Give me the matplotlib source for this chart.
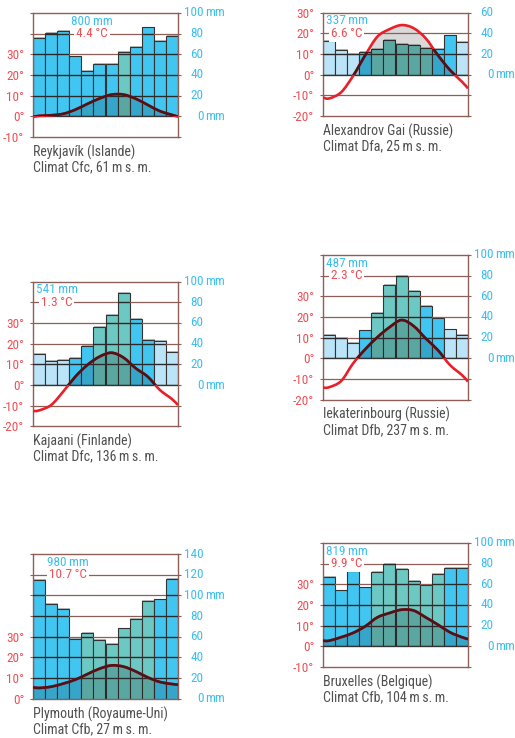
import numpy as np
import matplotlib
matplotlib.use('Agg')
import matplotlib.pyplot as plt
import matplotlib.patheffects as pe
from matplotlib import transforms
from matplotlib.path import Path
from matplotlib.patches import PathPatch, Rectangle

plt.rcParams['font.family'] = ['Roboto Condensed', 'Liberation Sans Narrow', 'DejaVu Sans']

months = np.arange(1, 13)

# precipitation (mm), temperature (°C) at month centres, curve ends at plot edges,
# bar class per month: l = frozen, b = cool, t = warm
reykjavik_precip = [76, 81, 83, 58, 44, 51, 51, 62, 67, 86, 73, 78]
reykjavik_temp = [0.2, 0.5, 1.2, 3.2, 6.0, 8.6, 10.5, 10.5, 8.5, 5.5, 2.5, 0.7]
reykjavik_ends = (-0.3, -0.2)
reykjavik_kind = 'bbbbbbbtbbbb'

alexandrov_precip = [33, 24, 20, 22, 25, 34, 30, 29, 26, 25, 38, 32]
alexandrov_temp = [-11.5, -8.5, -0.5, 9.5, 18.4, 22.0, 24.0, 22.5, 17.6, 9.5, 2.3, -3.4]
alexandrov_ends = (-11.0, -6.6)
alexandrov_kind = 'lllbtttttbbl'

kajaani_precip = [30, 23, 24, 26, 38, 56, 68, 89, 64, 44, 43, 32]
kajaani_temp = [-12.3, -9.7, -3.2, 4.0, 9.7, 13.7, 15.6, 13.2, 8.1, 4.0, -2.4, -6.8]
kajaani_ends = (-12.6, -9.7)
kajaani_kind = 'lllbbtttbbll'

iekaterinbourg_precip = [23, 20, 15, 27, 44, 71, 80, 65, 51, 39, 28, 23]
iekaterinbourg_temp = [-14.0, -11.0, -2.4, 4.4, 10.2, 15.0, 18.5, 15.6, 9.6, 4.0, -3.2, -8.1]
iekaterinbourg_ends = (-14.2, -11.3)
iekaterinbourg_kind = 'lllbttttbbll'

plymouth_precip = [115, 92, 87, 58, 64, 57, 53, 68, 77, 95, 96, 116]
plymouth_temp = [5.2, 5.8, 7.3, 9.2, 11.9, 14.5, 16.1, 15.5, 13.2, 10.3, 8.1, 7.1]
plymouth_ends = (5.5, 6.8)
plymouth_kind = 'bbbbttttttbb'

bruxelles_precip = [67, 54, 73, 57, 72, 80, 75, 63, 59, 70, 76, 76]
bruxelles_temp = [2.7, 4.4, 6.5, 9.7, 14.0, 16.1, 17.7, 17.3, 14.0, 10.5, 6.8, 4.4]
bruxelles_ends = (2.7, 3.5)
bruxelles_kind = 'bbbbttttttbb'

names = ['Reykjavík (Islande)', 'Alexandrov Gai (Russie)', 'Kajaani (Finlande)',
         'Iekaterinbourg (Russie)', 'Plymouth (Royaume-Uni)', 'Bruxelles (Belgique)']
climates = ['Climat Cfc, 61\u2009m\u2009s.\u2009m.', 'Climat Dfa, 25\u2009m\u2009s.\u2009m.',
            'Climat Dfc, 136\u2009m\u2009s.\u2009m.', 'Climat Dfb, 237\u2009m\u2009s.\u2009m.',
            'Climat Cfb, 27\u2009m\u2009s.\u2009m.', 'Climat Cfb, 104\u2009m\u2009s.\u2009m.']
totals = [800, 337, 541, 487, 980, 819]
means = ['4.4', '6.6', '1.3', '2.3', '10.7', '9.9']

stations = [
    (reykjavik_precip, reykjavik_temp, reykjavik_ends, reykjavik_kind),
    (alexandrov_precip, alexandrov_temp, alexandrov_ends, alexandrov_kind),
    (kajaani_precip, kajaani_temp, kajaani_ends, kajaani_kind),
    (iekaterinbourg_precip, iekaterinbourg_temp, iekaterinbourg_ends, iekaterinbourg_kind),
    (plymouth_precip, plymouth_temp, plymouth_ends, plymouth_kind),
    (bruxelles_precip, bruxelles_temp, bruxelles_ends, bruxelles_kind),
]

# layout in pixels: left edge, y of the 0° line, temperature range, x of the header labels
layout = [(33, 116.3, -10, 50, 5.4), (323, 74.7, -20, 30, 2.45),
          (33, 385.0, -20, 50, 2.45), (323, 358.3, -20, 50, 2.45),
          (33, 698.7, 0, 70, 3.4), (323, 646.3, -10, 50, 2.45)]

W, H = 515, 738
PX10 = 20.67
PW = 145

RED = '#ee4f55'
BLUE = '#3dbfee'
BROWN = '#8e5f57'
TEXT = '#505050'
bar_colors = {'l': '#bce4f8', 'b': '#40c6f1', 't': '#6cc8c2'}

fig = plt.figure(figsize=(W / 100, H / 100), dpi=100)


def curve_path(temp, ends):
    xs = np.concatenate([[0.5], months, [12.5]])
    ys = np.concatenate([[ends[0]], temp, [ends[1]]])
    pts = np.column_stack([xs, ys])
    n = len(pts)
    verts = [pts[0]]
    codes = [Path.MOVETO]
    for i in range(n - 1):
        pm, p0, p1, p2 = pts[max(i - 1, 0)], pts[i], pts[i + 1], pts[min(i + 2, n - 1)]
        verts += [p0 + (p1 - pm) / 6, p1 - (p2 - p0) / 6, p1]
        codes += [Path.CURVE4] * 3
    return verts, codes


for (precip, temp, ends, kind), (x0, zero_y, tmin, tmax, lab_x), name, clim, tot, mean in zip(
        stations, layout, names, climates, totals, means):
    top = zero_y - tmax / 10 * PX10
    h = (tmax - tmin) / 10 * PX10
    ax = fig.add_axes([x0 / W, 1 - (top + h) / H, PW / W, h / H])
    ax.set_xlim(0.5, 12.5)
    ax.set_ylim(tmin, tmax)

    verts, codes = curve_path(temp, ends)
    line = Path(verts, codes)
    region = Path([(0.5, 0)] + verts + [(12.5, 0), (0.5, 0)],
                  [Path.MOVETO, Path.LINETO] + codes[1:] + [Path.LINETO, Path.CLOSEPOLY])

    # dry period: area under the curve, above 0
    grey = PathPatch(region, fc='#d9d9d9', ec='none', zorder=1)
    ax.add_patch(grey)
    grey.set_clip_path(Rectangle((0.5, 0), 12, tmax, transform=ax.transData))

    bars = ax.bar(months, np.array(precip) / 2, width=1,
                  color=[bar_colors[k] for k in kind], edgecolor='#333333', lw=0.8, zorder=2)
    for b in bars:
        b.set_path_effects([pe.SimplePatchShadow(offset=(0.5, 0.6), shadow_rgbFace='#777777', alpha=0.5),
                            pe.Normal()])
    bar_clip = Path.make_compound_path(*[b.get_path().transformed(b.get_patch_transform()) for b in bars])

    shade = PathPatch(region, fc='black', alpha=0.16, ec='none', zorder=3)
    ax.add_patch(shade)
    shade.set_clip_path(bar_clip, ax.transData)

    for t in range(tmin + 10, tmax, 10):
        ax.axhline(t, color=BROWN if t != 0 else '#333333', lw=0.9, zorder=4)
        dark = ax.axhline(t, color='#2a2a2a', lw=0.9, zorder=4.1)
        dark.set_clip_path(bar_clip, ax.transData)

    ax.add_patch(PathPatch(line, fc='none', ec='#e8202a', lw=1.9, zorder=5))
    inner = PathPatch(line, fc='none', ec='#4a1418', lw=1.9, zorder=5.1)
    ax.add_patch(inner)
    inner.set_clip_path(bar_clip, ax.transData)

    for s in ax.spines.values():
        s.set_color(BROWN)
        s.set_linewidth(1.0)
    ax.set_xticks([])
    ticks = list(range(tmin, tmax + 1, 10))
    ax.set_yticks(ticks)
    ax.set_yticklabels([f'{t}°' if t <= 30 else '' for t in ticks])
    ax.tick_params(axis='y', left=True, right=True, length=2.2, width=0.8, color=BROWN,
                   labelcolor=RED, labelsize=9.5, pad=4)

    ytr = ax.get_yaxis_transform()
    for t in ticks:
        if t < 0:
            continue
        ax.text(1 + 25.6 / PW, t, str(2 * t), transform=ytr, ha='right', va='center',
                color=BLUE, fontsize=9.5)
        if 2 * t in (0, 100):
            ax.text(1 + 27.5 / PW, t, 'mm', transform=ytr, ha='left', va='center',
                    color=BLUE, fontsize=9.5)

    ax.text(lab_x, tmax - 4, f'{tot}\u2009mm', ha='center', va='center', color=BLUE,
            fontsize=9.5, zorder=7)
    ax.text(lab_x, tmax - 10, f'{mean}\u2009°C', ha='center', va='center', color=RED,
            fontsize=9.5, zorder=7, bbox=dict(fc='white', ec='none', pad=1.5))

    for dy, s in ((-19.4, name), (-34.4, clim)):
        tr = transforms.offset_copy(ax.transAxes, fig=fig, x=0, y=dy, units='dots')
        ax.text(0, 0, s, transform=tr, ha='left', va='baseline', color=TEXT, fontsize=10)

fig.savefig('out.png', dpi=100, facecolor='white')
